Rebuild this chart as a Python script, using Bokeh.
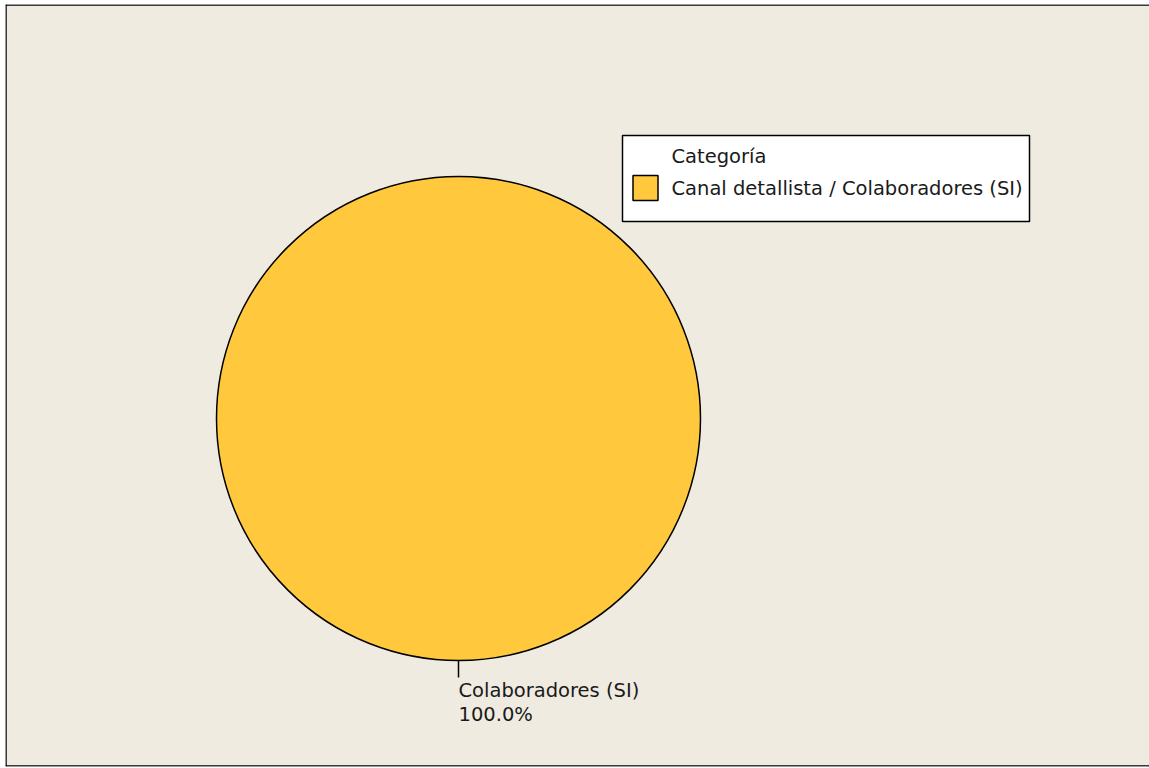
import math
from bokeh.plotting import figure
from bokeh.models import Range1d, BoxAnnotation, Span, ColumnDataSource
from bokeh.core.properties import value
from bokeh.embed import file_html
from bokeh.resources import INLINE

# ---- data ----
categories = ["Colaboradores (SI)"]
legend_labels = ["Canal detallista / Colaboradores (SI)"]
values = [100.0]
legend_title = "Categoría"
colors = ["#FFC83D"]

FONT = "DejaVu Sans"
FS = "19.5px"
BG = "#EFEBE1"

W, H = 1149, 768
ML, MT, MB = 5, 4, 2
FW, FH = W - ML, H - MT - MB

p = figure(width=W, height=H, output_backend="svg", toolbar_location=None,
           x_range=Range1d(0, FW), y_range=Range1d(0, FH),
           min_border_left=ML, min_border_top=MT, min_border_bottom=MB, min_border_right=0,
           background_fill_color=BG, border_fill_color="white", outline_line_color=None)
p.axis.visible = False
p.grid.visible = False

def px(x):
    return x - ML
def py(y):
    return H - MB - y

# frame lines (left, top, bottom)
p.add_layout(Span(location=0.5, dimension="height", line_color="black", line_width=1.5))
p.add_layout(Span(location=FH - 0.5, dimension="width", line_color="black", line_width=1.5))
p.add_layout(Span(location=0.5, dimension="width", line_color="black", line_width=1.5))

# pie
cx, cy, r = px(458), py(418), 242
total = sum(values)
starts, ends = [], []
acc = 0.0
for v in values:
    a0 = math.pi / 2 - acc / total * 2 * math.pi
    acc += v
    a1 = math.pi / 2 - acc / total * 2 * math.pi
    starts.append(a1)
    ends.append(a0)
src = ColumnDataSource(dict(x=[cx] * len(values), y=[cy] * len(values),
                            start=starts, end=ends, color=colors, cat=categories))
if len(values) == 1:
    p.circle(x="x", y="y", radius=r, source=src, fill_color="color",
             line_color="black", line_width=1.5)
else:
    p.wedge(x="x", y="y", radius=r, start_angle="start", end_angle="end", source=src,
            fill_color="color", line_color="black", line_width=1.5)

# slice label with leader line
pct = [f"{v / total * 100:.1f}%" for v in values]
p.segment(x0=[px(458)], y0=[py(660)], x1=[px(458)], y1=[py(677)], line_color="black", line_width=1.5)
p.text(x=[px(458)], y=[py(678)], text=[f"{categories[0]}\n{pct[0]}"],
       text_font=value(FONT), text_font_size=FS, text_color="#1a1a1a",
       text_baseline="top", text_align="left", text_line_height=1.05)

# legend box
p.add_layout(BoxAnnotation(left=px(622), right=px(1029), top=py(135), bottom=py(221),
                           fill_color="white", fill_alpha=1.0, line_color="black",
                           line_alpha=1.0, line_width=1.5, level="underlay"))
p.rect(x=[px(645)], y=[py(187.5)], width=25, height=25, fill_color=colors[0],
       line_color="black", line_width=1.5)
p.text(x=[px(671)], y=[py(156)], text=[legend_title], text_font=value(FONT),
       text_font_size=FS, text_color="#1a1a1a", text_baseline="middle")
p.text(x=[px(671)], y=[py(187.5)], text=[legend_labels[0]], text_font=value(FONT),
       text_font_size=FS, text_color="#1a1a1a", text_baseline="middle")

open("out.html", "w").write(file_html(p, INLINE))
